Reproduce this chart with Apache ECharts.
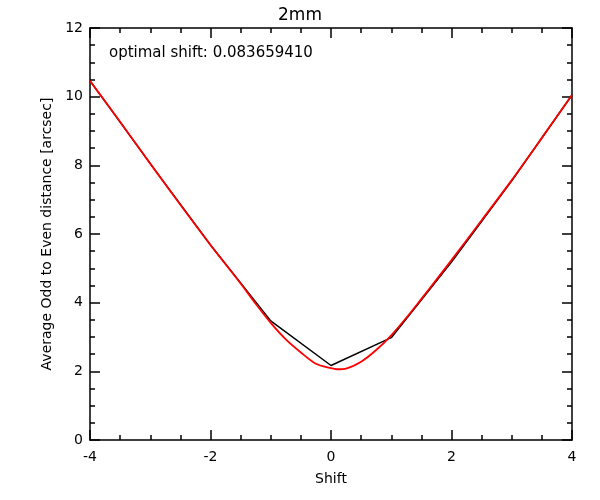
<!DOCTYPE html>
<html>

<head>
    <meta charset="utf-8">
    <script src="https://cdn.jsdelivr.net/npm/echarts@6/dist/echarts.min.js"></script>
    <style>
        html, body { margin: 0; padding: 0; background: #fff; }
        #main { width: 600px; height: 500px; }
    </style>
</head>

<body>
    <div id="main"></div>
    <script type="text/javascript">

        // measured distance per shift (black)
        var shiftX = [-4, -3, -2, -1, 0, 1, 2, 3, 4];
        var distY = [10.46, 8.05, 5.68, 3.47, 2.17, 2.98, 5.18, 7.55, 10.05];

        // fitted curve (red)
        var fitX = [-4, -3.5, -3, -2.5, -2, -1.5, -1.25, -1, -0.75, -0.5, -0.25, 0, 0.1, 0.25, 0.5, 0.75, 1, 1.25, 1.5, 1.75, 2, 2.5, 3, 3.5, 4];
        var fitY = [10.46, 9.27, 8.05, 6.85, 5.68, 4.56, 3.97, 3.41, 2.93, 2.55, 2.22, 2.09, 2.06, 2.08, 2.28, 2.62, 3.05, 3.56, 4.11, 4.67, 5.24, 6.4, 7.57, 8.8, 10.05];

        var xTicks = [-4, -2, 0, 2, 4];
        var yTicks = [0, 2, 4, 6, 8, 10, 12];
        var optimalShift = '0.083659410';

        function pairs(xs, ys) {
            return xs.map(function (x, i) { return [x, ys[i]]; });
        }

        var font = 'DejaVu Sans';
        var tickStyle = { show: true, inside: true, length: 10, lineStyle: { color: '#000', width: 1.5 } };
        var minorStyle = { show: true, splitNumber: 4, length: 5, lineStyle: { color: '#000', width: 1.5 } };
        var lineStyle = { show: true, onZero: false, lineStyle: { color: '#000', width: 1.5 } };
        var labelStyle = { color: '#000', fontFamily: font, fontSize: 14 };

        var myChart = echarts.init(document.getElementById('main'), null, { renderer: 'canvas' });

        myChart.setOption({
            animation: false,
            backgroundColor: '#fff',
            title: {
                text: '2mm', left: 'center', top: 2,
                textStyle: { color: '#000', fontFamily: font, fontSize: 17, fontWeight: 'normal' }
            },
            graphic: [{
                type: 'text', left: 109, top: 46,
                style: { text: 'optimal shift: ' + optimalShift, fill: '#000', font: '15px "DejaVu Sans"' }
            }],
            grid: { left: 90, right: 28, top: 28, bottom: 60 },
            xAxis: [{
                type: 'value', min: xTicks[0], max: xTicks[xTicks.length - 1], interval: 2,
                name: 'Shift', nameLocation: 'middle', nameGap: 32,
                nameTextStyle: { color: '#000', fontFamily: font, fontSize: 14 },
                axisLine: lineStyle, axisTick: tickStyle, minorTick: minorStyle,
                axisLabel: Object.assign({ margin: 10 }, labelStyle),
                splitLine: { show: false }
            }, {
                type: 'value', position: 'top', min: xTicks[0], max: xTicks[xTicks.length - 1], interval: 2,
                axisLine: lineStyle, axisTick: tickStyle, minorTick: minorStyle,
                axisLabel: { show: false }, splitLine: { show: false }
            }],
            yAxis: [{
                type: 'value', min: yTicks[0], max: yTicks[yTicks.length - 1], interval: 2,
                name: 'Average Odd to Even distance [arcsec]', nameLocation: 'middle', nameGap: 36,
                nameTextStyle: { color: '#000', fontFamily: font, fontSize: 14 },
                axisLine: lineStyle, axisTick: tickStyle, minorTick: minorStyle,
                axisLabel: Object.assign({ margin: 7 }, labelStyle),
                splitLine: { show: false }
            }, {
                type: 'value', position: 'right', min: yTicks[0], max: yTicks[yTicks.length - 1], interval: 2,
                axisLine: lineStyle, axisTick: tickStyle, minorTick: minorStyle,
                axisLabel: { show: false }, splitLine: { show: false }
            }],
            series: [{
                type: 'line', data: pairs(shiftX, distY), showSymbol: false,
                lineStyle: { color: '#000', width: 1.5 }, z: 2
            }, {
                type: 'line', data: pairs(fitX, fitY), showSymbol: false, smooth: 0.3,
                lineStyle: { color: '#f00', width: 1.8 }, z: 3
            }]
        });
    </script>
</body>

</html>
